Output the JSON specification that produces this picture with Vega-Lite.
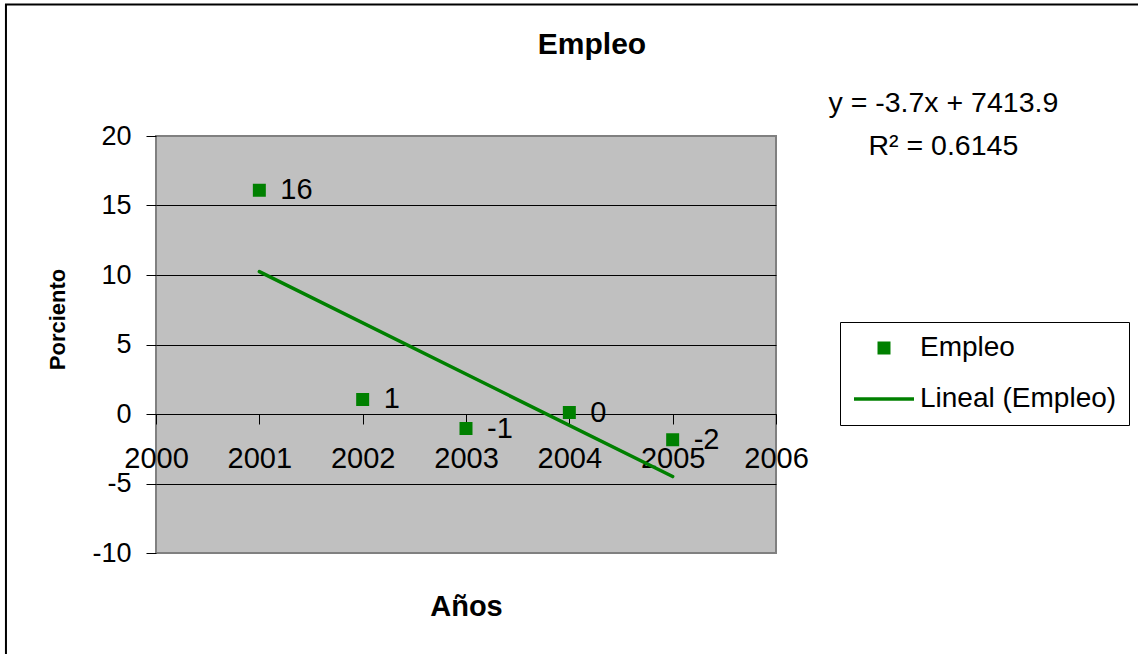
{
  "$schema": "https://vega.github.io/schema/vega-lite/v6.json",
  "width": 620,
  "height": 417,
  "autosize": {"type": "none"},
  "padding": {"left": 156, "top": 136, "right": 362, "bottom": 101},
  "background": "white",
  "config": {
    "font": "Liberation Sans",
    "locale": {"number": {"decimal": ".", "thousands": ",", "grouping": [3], "currency": ["$", ""], "minus": "-"}},
    "view": {"fill": "#C0C0C0", "stroke": "#808080", "strokeWidth": 2},
    "legend": {
      "orient": "none",
      "legendX": 684,
      "legendY": 186,
      "strokeColor": "black",
      "fillColor": "white",
      "padding": 12,
      "labelFontSize": 28,
      "labelColor": "black",
      "labelOffset": 4,
      "labelLimit": 400,
      "rowPadding": 5,
      "symbolStrokeWidth": 3.5,
      "symbolStrokeColor": "#008000",
      "symbolFillColor": "#008000",
      "symbolOpacity": 1
    }
  },
  "title": {
    "text": "Empleo",
    "fontSize": 30,
    "fontWeight": "bold",
    "color": "black",
    "anchor": "middle",
    "frame": "group",
    "dx": 126,
    "offset": -80.5,
    "baseline": "alphabetic"
  },
  "data": {
    "values": [
      {"year": 2001, "value": 16.1},
      {"year": 2002, "value": 1.05},
      {"year": 2003, "value": -1.05},
      {"year": 2004, "value": 0.1},
      {"year": 2005, "value": -1.85}
    ]
  },
  "layer": [
    {
      "data": {"values": [{"note": "frame"}]},
      "mark": {"type": "rect", "fillOpacity": 0, "stroke": "black", "strokeWidth": 2},
      "encoding": {
        "x": {"datum": 1998.548, "type": "quantitative", "title": "Años", "scale": {"domain": [2000, 2006], "nice": false, "zero": false}},
        "x2": {"datum": 2009.52},
        "y": {"datum": 29.46, "type": "quantitative", "title": "Porciento", "scale": {"domain": [-10, 20], "nice": false, "zero": false}},
        "y2": {"datum": -17.41}
      }
    },
    {
      "mark": {"type": "point", "filled": true, "opacity": 1, "stroke": "#008000", "strokeWidth": 3.5},
      "encoding": {
        "x": {
          "field": "year", "type": "quantitative", "title": "Años",
          "scale": {"domain": [2000, 2006], "nice": false, "zero": false},
          "axis": {
            "values": [2000, 2001, 2002, 2003, 2004, 2005, 2006],
            "format": "d",
            "offset": -139,
            "grid": false,
            "domainColor": "black",
            "domainWidth": 1,
            "tickColor": "black",
            "tickSize": 10,
            "labelFontSize": 29,
            "labelColor": "black",
            "labelPadding": 20,
            "labelFlush": false,
            "labelOverlap": false,
            "labelBound": false,
            "titleFontSize": 29,
            "titleFontWeight": "bold",
            "titleColor": "black",
            "titleX": 310,
            "titleY": 201,
            "titleBaseline": "alphabetic",
            "titleAlign": "center"
          }
        },
        "y": {
          "field": "value", "type": "quantitative", "title": "Porciento",
          "scale": {"domain": [-10, 20], "nice": false, "zero": false},
          "axis": {
            "values": [-10, -5, 0, 5, 10, 15, 20],
            "domain": false,
            "grid": true,
            "gridColor": "black",
            "gridWidth": 1,
            "gridOpacity": {"condition": {"test": "datum.value === 20 || datum.value === -10", "value": 0}, "value": 1},
            "tickColor": "black",
            "tickSize": 10,
            "labelFontSize": 27,
            "labelColor": "black",
            "labelPadding": 15,
            "labelBaseline": "middle",
            "labelFlush": false,
            "labelOverlap": false,
            "labelBound": false,
            "titleFontSize": 22,
            "titleFontWeight": "bold",
            "titleColor": "black",
            "titleAngle": 270,
            "titleX": -92,
            "titleY": 183,
            "titleBaseline": "alphabetic",
            "titleAlign": "center"
          }
        },
        "color": {
          "datum": "Empleo",
          "title": null,
          "scale": {"domain": ["Empleo", "Lineal (Empleo)"], "range": ["#008000", "#008000"]}
        },
        "shape": {
          "datum": "Empleo",
          "title": null,
          "scale": {"domain": ["Empleo", "Lineal (Empleo)"], "range": ["square", "stroke"]}
        },
        "size": {
          "datum": "Empleo",
          "title": null,
          "scale": {"type": "ordinal", "domain": ["Empleo", "Lineal (Empleo)"], "range": [90, 3600]}
        }
      }
    },
    {
      "transform": [{"regression": "value", "on": "year"}],
      "mark": {"type": "line", "strokeWidth": 3.5, "strokeCap": "round"},
      "encoding": {
        "x": {"field": "year", "type": "quantitative", "title": "Años", "scale": {"domain": [2000, 2006], "nice": false, "zero": false}},
        "y": {"field": "value", "type": "quantitative", "title": "Porciento", "scale": {"domain": [-10, 20], "nice": false, "zero": false}},
        "color": {"datum": "Lineal (Empleo)", "title": null}
      }
    },
    {
      "mark": {"type": "text", "align": "left", "baseline": "middle", "dx": 21, "fontSize": 29, "color": "black"},
      "encoding": {
        "x": {"field": "year", "type": "quantitative", "title": "Años", "scale": {"domain": [2000, 2006], "nice": false, "zero": false}},
        "y": {"field": "value", "type": "quantitative", "title": "Porciento", "scale": {"domain": [-10, 20], "nice": false, "zero": false}},
        "text": {"field": "value", "type": "quantitative", "format": ".0f"}
      }
    },
    {
      "data": {"values": [{"note": "trend"}]},
      "mark": {"type": "text", "align": "center", "baseline": "alphabetic", "fontSize": 28.5, "lineHeight": 43, "color": "black"},
      "encoding": {
        "x": {"datum": 2007.62, "type": "quantitative", "title": "Años", "scale": {"domain": [2000, 2006], "nice": false, "zero": false}},
        "y": {"datum": 21.73, "type": "quantitative", "title": "Porciento", "scale": {"domain": [-10, 20], "nice": false, "zero": false}},
        "text": {"value": ["y = -3.7x + 7413.9", "R² = 0.6145"]}
      }
    }
  ]
}
